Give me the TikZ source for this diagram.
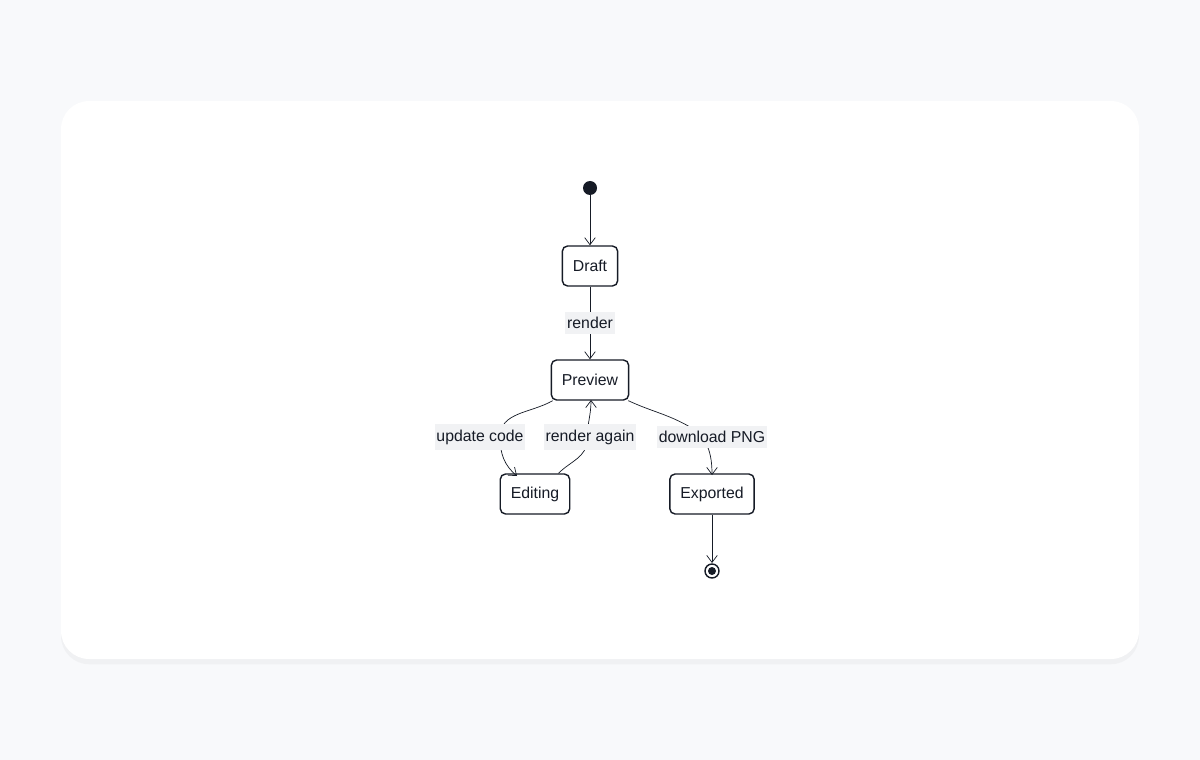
\documentclass[tikz,border=0pt]{standalone}
\usepackage{fontspec}
\setmainfont{Liberation Sans}
\usetikzlibrary{arrows.meta,shadows}
\definecolor{pagebg}{HTML}{F8F9FB}
\definecolor{ink}{HTML}{161B26}
\definecolor{lblbg}{HTML}{F1F2F4}
\tikzset{
  state/.style={draw=ink,rounded corners=3pt,thick,fill=white,minimum height=0.8cm,inner xsep=6pt,font=\fontsize{9}{11}\selectfont,text=ink},
  trans/.style={draw=ink,thin,-{Straight Barb[length=4pt,width=6pt]}},
  lbl/.style={fill=lblbg,inner xsep=1pt,inner ysep=3pt,font=\fontsize{9}{11}\selectfont,text=ink}
}
\begin{document}
\begin{tikzpicture}[x=0.02cm,y=-0.02cm]
\useasboundingbox[fill=pagebg] (0,0) rectangle (1200,760);
\fill[white,rounded corners=16pt,drop shadow={opacity=0.06,shadow xshift=0pt,shadow yshift=-3pt}] (61,101) rectangle (1139,659);
% states
\fill[ink] (590,188) circle (7) coordinate (start);
\node[state] (draft) at (590,266) {Draft};
\node[state] (preview) at (590,380) {Preview};
\node[state] (editing) at (535,494) {Editing};
\node[state] (exported) at (712,494) {Exported};
\draw[ink,thick] (712,571) circle (7);
\fill[ink] (712,571) circle (4);
\coordinate (stop) at (712,563);
% transitions
\draw[trans] (start) -- (draft);
\draw[trans] (draft) -- (preview);
\draw[trans] (preview.south west) ++(2,0) to[out=-150,in=90] (500,437) to[out=-90,in=140] (517,476);
\draw[trans] (editing.north east) ++(-12,0) to[out=45,in=-90] (587,440) to[out=90,in=-90] (591,400);
\draw[trans] (preview.south east) ++(-1,0) to[out=-25,in=150] (690,427) to[out=-30,in=90] (712,475);
\draw[trans] (exported) -- (stop);
% labels
\node[lbl] (l1) at (590,323) {render};
\node[lbl] (l2) at (480,437) {update code};
\node[lbl] (l3) at (590,437) {render again};
\node[lbl] (l4) at (712,437) {download PNG};
\end{tikzpicture}
\end{document}
